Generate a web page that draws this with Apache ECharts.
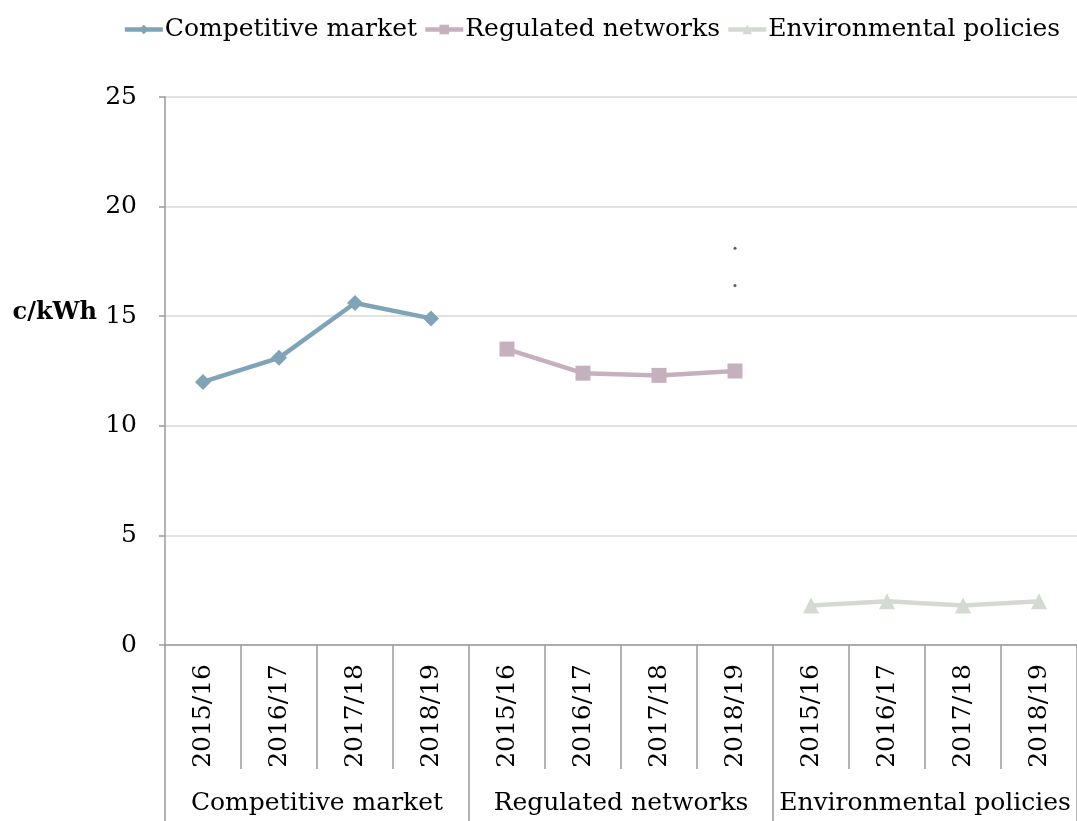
<!DOCTYPE html>
<html>
<head>
<meta charset="utf-8">
<script src="https://cdn.jsdelivr.net/npm/echarts@6/dist/echarts.min.js"></script>
<style>
html,body{margin:0;padding:0;background:#fff;}
#chart{width:1077px;height:821px;}
</style>
</head>
<body>
<div id="chart"></div>
<script>
const years = ['2015/16', '2016/17', '2017/18', '2018/19'];
const groups = ['Competitive market', 'Regulated networks', 'Environmental policies'];
const competitiveMarket = [12.0, 13.1, 15.6, 14.9];
const regulatedNetworks = [13.5, 12.4, 12.3, 12.5];
const environmentalPolicies = [1.8, 2.0, 1.8, 2.0];
const strayDots = [18.1, 16.4];
const yTicks = [0, 5, 10, 15, 20, 25];
const yUnit = 'c/kWh';
const yUnitAt = 15;

const FONT = 'DejaVu Serif';
const FS = 25;
const categories = [];
groups.forEach(() => years.forEach(y => categories.push(y)));

function place(values, groupIndex) {
  const arr = new Array(categories.length).fill(null);
  values.forEach((v, i) => { arr[groupIndex * years.length + i] = v; });
  return arr;
}

const colors = ['#7FA3B7', '#C5B1BE', '#D3DAD2'];
const symbols = ['diamond', 'rect', 'triangle'];
const symbolSizes = [16, 15, 16];
const seriesValues = [competitiveMarket, regulatedNetworks, environmentalPolicies];

const series = groups.map((g, i) => ({
  name: g,
  type: 'line',
  data: place(seriesValues[i], i),
  symbol: symbols[i],
  symbolSize: symbolSizes[i],
  showSymbol: true,
  connectNulls: false,
  lineStyle: { color: colors[i], width: 4.5 },
  itemStyle: { color: colors[i] },
  z: 3
}));

series.push({
  name: 'dots',
  type: 'scatter',
  data: strayDots.map(v => [categories.length - 5, v]),
  symbol: 'circle',
  symbolSize: 3,
  itemStyle: { color: '#333' },
  silent: true
});

const chart = echarts.init(document.getElementById('chart'));
chart.setOption({
  animation: false,
  backgroundColor: '#fff',
  textStyle: { fontFamily: FONT },
  legend: {
    data: groups,
    right: 12,
    top: 12,
    itemGap: 6,
    itemWidth: 38,
    itemHeight: 12,
    lineStyle: { width: 4.5 },
    textStyle: { fontFamily: FONT, fontSize: FS, color: '#000', padding: [0, 0, 0, -3] }
  },
  grid: { left: 165, right: 0, top: 97, bottom: 176, containLabel: false },
  xAxis: [
    {
      type: 'category',
      data: categories,
      boundaryGap: true,
      axisLine: { show: true, lineStyle: { color: '#9a9a9a', width: 1.5 } },
      axisTick: { show: true, interval: 0, length: 124, lineStyle: { color: '#9a9a9a', width: 1.5 } },
      axisLabel: { interval: 0, rotate: 90, margin: 19, fontFamily: FONT, fontSize: FS, color: '#000' },
      splitLine: { show: false }
    },
    {
      type: 'category',
      data: groups,
      position: 'bottom',
      boundaryGap: true,
      axisLine: { show: false },
      axisTick: { show: true, interval: 0, length: 176, lineStyle: { color: '#9a9a9a', width: 1.5 } },
      axisLabel: { interval: 0, margin: 146, fontFamily: FONT, fontSize: FS, color: '#000' },
      splitLine: { show: false }
    }
  ],
  yAxis: {
    type: 'value',
    min: yTicks[0],
    max: yTicks[yTicks.length - 1],
    interval: 5,
    axisLine: { show: true, lineStyle: { color: '#9a9a9a', width: 1.5 } },
    axisTick: { show: true, length: 6, lineStyle: { color: '#9a9a9a', width: 1.5 } },
    axisLabel: { margin: 28, fontFamily: FONT, fontSize: FS, color: '#000' },
    splitLine: { show: true, lineStyle: { color: '#d9d9d9', width: 1.5 } }
  },
  series: series
});

const unitY = chart.convertToPixel({ yAxisIndex: 0 }, yUnitAt);
chart.setOption({
  graphic: [{
    type: 'text',
    x: 97,
    y: unitY - 3,
    style: {
      text: yUnit,
      fontFamily: FONT,
      fontSize: 24,
      fontWeight: 'bold',
      fill: '#000',
      align: 'right',
      verticalAlign: 'middle'
    }
  }]
});
</script>
</body>
</html>
